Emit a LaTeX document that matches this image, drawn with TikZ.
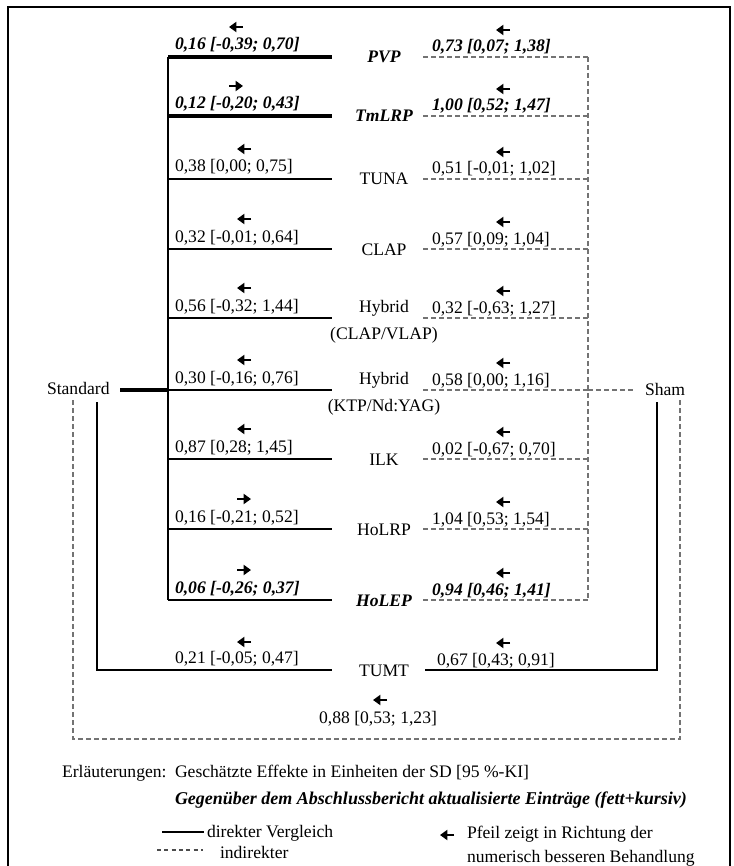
\documentclass[tikz,border=0pt]{standalone}
\usepackage{fontspec}
\setmainfont{Liberation Serif}
\usetikzlibrary{arrows.meta}
\newcommand{\pfl}[2]{\draw[parrow] ({#1+7},{#2}) -- ({#1-7},{#2});}
\newcommand{\pfr}[2]{\draw[parrow] ({#1-7},{#2}) -- ({#1+7},{#2});}
\begin{document}
\begin{tikzpicture}[x=0.75pt,y=-0.75pt,
  every node/.style={font=\fontsize{13.2}{15}\selectfont, inner sep=0pt, outer sep=0pt},
  direct/.style={line width=1.5pt, black},
  indirect/.style={line width=0.8pt, black!55, dash pattern=on 3.5pt off 2.5pt},
  upd/.style={font=\fontsize{13.2}{15}\selectfont\bfseries\itshape},
  lt/.style={anchor=base west},
  mid/.style={anchor=base},
  parrow/.style={-{Triangle[length=5.5pt,width=7.5pt]}, line width=1.6pt},
]
\useasboundingbox (0,0) rectangle (733,866);
\draw[line width=1.5pt] (8,880) -- (8,7) -- (730,7) -- (730,880);

% ---- rows: coordinates
\foreach \n/\y in {a/57,b/116,c/179,d/249,e/318,f/390,g/459,h/529,i/600}{
  \coordinate (L\n) at (168,\y);
  \coordinate (E\n) at (332,\y);
  \coordinate (S\n) at (423,\y);
  \coordinate (R\n) at (588,\y);
}
% middle labels
\node[mid,upd] (pvp) at (384,63) {PVP};
\node[mid,upd] (tmlrp) at (384,122) {TmLRP};
\node[mid] (tuna) at (384,185) {TUNA};
\node[mid] (clap) at (384,255) {CLAP};
\node[mid] (hyb1) at (384,312) {Hybrid};
\node[mid] (hyb1b) at (384,339) {(CLAP/VLAP)};
\node[mid] (hyb2) at (384,384) {Hybrid};
\node[mid] (hyb2b) at (384,411) {(KTP/Nd:YAG)};
\node[mid] (ilk) at (384,465) {ILK};
\node[mid] (holrp) at (384,535) {HoLRP};
\node[mid,upd] (holep) at (384,606) {HoLEP};
\node[mid] (tumt) at (384,676) {TUMT};

% left vertical and direct lines
\draw[direct] (La) -- (Li);
\draw[line width=2.3pt] (La) -- (Ea);
\draw[line width=3.4pt] (Lb) -- (Eb);
\foreach \n in {c,d,e,f,g,h,i}{\draw[direct] (L\n) -- (E\n);}
% indirect lines
\draw[indirect] (Ra) -- (Ri);
\foreach \n in {a,b,c,d,e,f,g,h,i}{\draw[indirect] (S\n) -- (R\n);}

% Standard and Sham
\node[anchor=base west] (std) at (47,394) {Standard};
\node[anchor=base west] (sham) at (645,395) {Sham};
\coordinate (stdE) at (120,390);
\draw[line width=2.3pt] (stdE) -- (Lf);
\coordinate (shamW) at (635,390);
\draw[indirect] (Rf) -- (shamW);

% TUMT
\coordinate (tl1) at (97,402); \coordinate (tl2) at (97,670); \coordinate (tl3) at (332,670);
\coordinate (tr1) at (657,402); \coordinate (tr2) at (657,670); \coordinate (tr3) at (425,670);
\draw[direct] (tl1) -- (tl2) -- (tl3);
\draw[direct] (tr3) -- (tr2) -- (tr1);
% outer indirect
\coordinate (o1) at (73,400); \coordinate (o2) at (73,739); \coordinate (o3) at (680,739); \coordinate (o4) at (680,400);
\draw[indirect] (o1) -- (o2) -- (o3) -- (o4);

% left texts
\node[lt,upd] (l1) at (175,50) {0,16 [-0,39; 0,70]};
\node[lt,upd] (l2) at (175,109) {0,12 [-0,20; 0,43]};
\node[lt] (l3) at (175,172) {0,38 [0,00; 0,75]};
\node[lt] (l4) at (175,242) {0,32 [-0,01; 0,64]};
\node[lt] (l5) at (175,311) {0,56 [-0,32; 1,44]};
\node[lt] (l6) at (175,383) {0,30 [-0,16; 0,76]};
\node[lt] (l7) at (175,452) {0,87 [0,28; 1,45]};
\node[lt] (l8) at (175,522) {0,16 [-0,21; 0,52]};
\node[lt,upd] (l9) at (175,593) {0,06 [-0,26; 0,37]};
\node[lt] (l10) at (175,663) {0,21 [-0,05; 0,47]};
% right texts
\node[lt,upd] (r1) at (432,52) {0,73 [0,07; 1,38]};
\node[lt,upd] (r2) at (432,111) {1,00 [0,52; 1,47]};
\node[lt] (r3) at (432,174) {0,51 [-0,01; 1,02]};
\node[lt] (r4) at (432,244) {0,57 [0,09; 1,04]};
\node[lt] (r5) at (432,313) {0,32 [-0,63; 1,27]};
\node[lt] (r6) at (432,385) {0,58 [0,00; 1,16]};
\node[lt] (r7) at (432,454) {0,02 [-0,67; 0,70]};
\node[lt] (r8) at (432,524) {1,04 [0,53; 1,54]};
\node[lt,upd] (r9) at (432,595) {0,94 [0,46; 1,41]};
\node[lt] (r10) at (437,665) {0,67 [0,43; 0,91]};
\node[anchor=base] (bot) at (378,723) {0,88 [0,53; 1,23]};

% arrows
\pfl{236}{27} \pfl{503}{30}
\pfr{236}{86} \pfl{503}{89}
\pfl{244}{149} \pfl{503}{152}
\pfl{244}{219} \pfl{503}{222}
\pfl{244}{288} \pfl{503}{291}
\pfl{244}{360} \pfl{503}{363}
\pfl{244}{429} \pfl{503}{432}
\pfr{244}{499} \pfl{503}{502}
\pfr{244}{570} \pfl{503}{573}
\pfl{244}{642} \pfl{503}{643}
\pfl{380}{700}

% legend
\node[anchor=base west] (erl) at (62,777) {Erläuterungen:};
\node[anchor=base west] (erl1) at (175,777) {Geschätzte Effekte in Einheiten der SD [95 \%-KI]};
\node[anchor=base west,font=\fontsize{13.5}{15}\selectfont\bfseries\itshape] (erl2) at (175,804) {Gegenüber dem Abschlussbericht aktualisierte Einträge (fett+kursiv)};
\coordinate (ls1) at (162,832); \coordinate (ls2) at (204,832);
\draw[direct] (ls1) -- (ls2);
\node[anchor=base west] (dir) at (207,837) {direkter Vergleich};
\coordinate (li1) at (157,850); \coordinate (li2) at (203,850);
\draw[line width=0.8pt, black!70, dash pattern=on 3pt off 2.5pt] (li1) -- (li2);
\node[anchor=base west] (ind) at (220,858) {indirekter};
\pfl{447}{835}
\node[anchor=base west] (pf1) at (467,838) {Pfeil zeigt in Richtung der};
\node[anchor=base west] (pf2) at (467,862) {numerisch besseren Behandlung};
\end{tikzpicture}
\end{document}
